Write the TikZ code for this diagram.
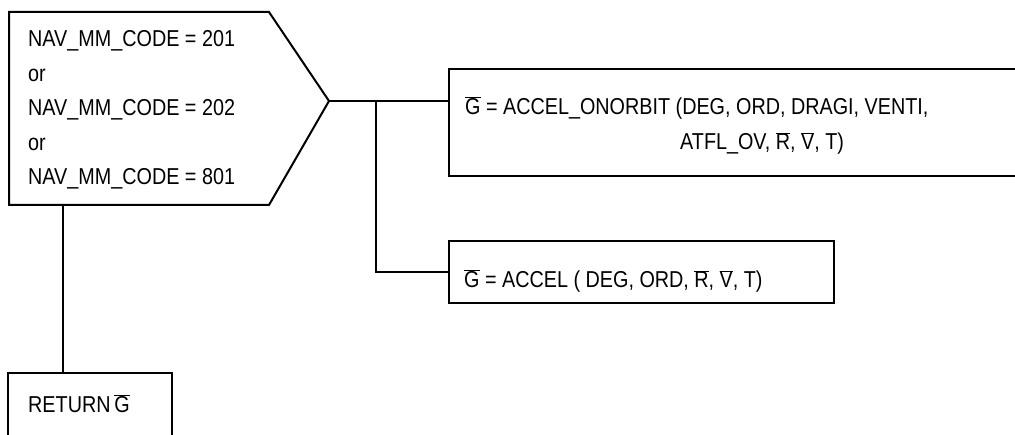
\documentclass[tikz,border=0pt]{standalone}
\usepackage{fontspec}
\setmainfont{Liberation Sans}[FakeStretch=0.86]
\newcommand{\ovl}[1]{$\overline{\mbox{#1}}$}
\begin{document}
\begin{tikzpicture}[x=1pt,y=-1pt,
  shapeline/.style={line width=2pt,line join=miter},
  conn/.style={line width=2pt},
  txt/.style={anchor=base west,inner sep=0pt,font=\fontsize{23}{27}\selectfont}]
\useasboundingbox (0,0) rectangle (1015,435);
% decision shape
\draw[shapeline] (9,12) -- (269,12) -- (329,101) -- (269,205) -- (9,205) -- cycle;
\coordinate (dtip) at (329,101);
\coordinate (dbot) at (63,205);
\node[txt] (d1) at (28,47) {NAV\_MM\_CODE = 201};
\node[txt] (d2) at (28,81.5) {or};
\node[txt] (d3) at (28,116) {NAV\_MM\_CODE = 202};
\node[txt] (d4) at (28,150.5) {or};
\node[txt] (d5) at (28,185) {NAV\_MM\_CODE = 801};
% box 1 (right edge outside the picture)
\draw[shapeline] (1016,69) -- (449,69) -- (449,176) -- (1016,176);
\coordinate (b1in) at (449,101);
\node[txt] (t1a) at (465,115) {\ovl{G} = ACCEL\_ONORBIT (DEG, ORD, DRAGI, VENTI,};
\node[txt] (t1b) at (680,150) {ATFL\_OV, \ovl{R}, \ovl{V}, T)};
% box 2
\draw[shapeline] (449,241) rectangle (834,303);
\coordinate (b2in) at (449,272);
\node[txt] (t2) at (464,288) {\ovl{G} = ACCEL ( DEG, ORD, \ovl{R}, \ovl{V}, T)};
% return box (bottom outside picture)
\draw[shapeline] (8,436) -- (8,373) -- (172,373) -- (172,436);
\coordinate (rtop) at (63,373);
\node[txt] (t3) at (28,413) {RETURN\,\ovl{G}};
% connectors
\coordinate (split) at (376,101);
\draw[conn] (dtip) -- (b1in);
\draw[conn] (split) |- (b2in);
\draw[conn] (dbot) -- (rtop);
\end{tikzpicture}
\end{document}
